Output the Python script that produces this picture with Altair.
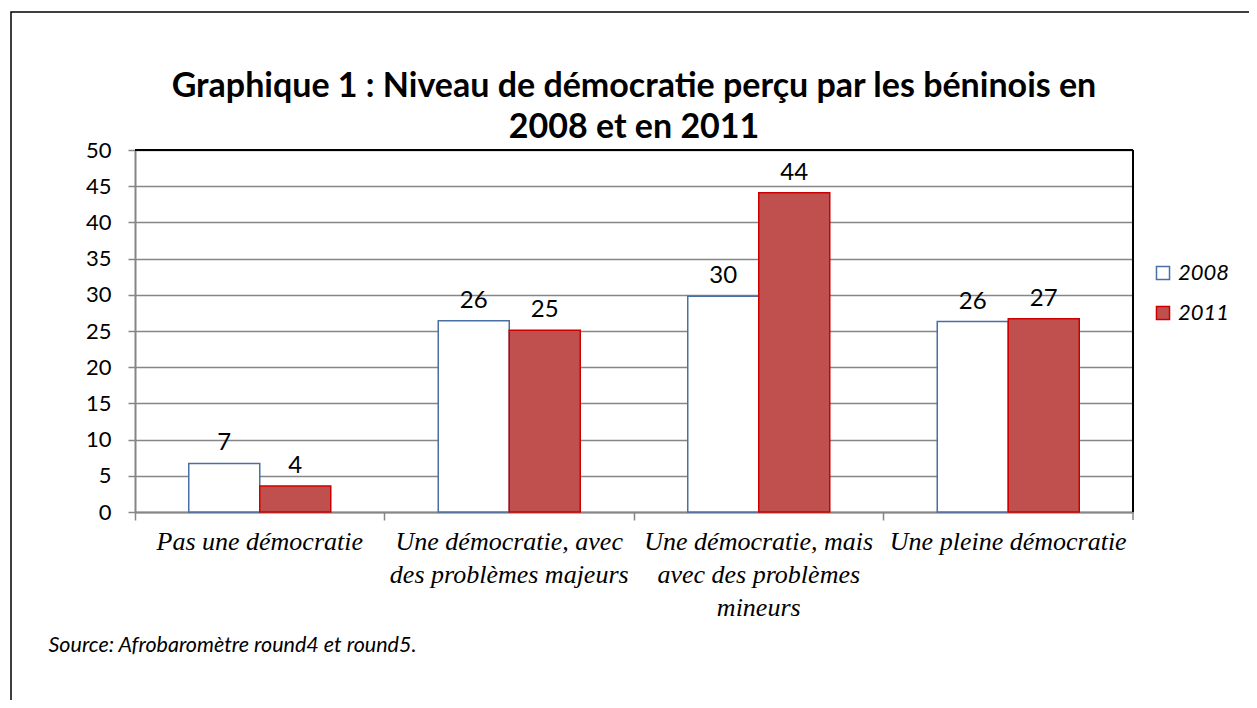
import altair as alt
import pandas as pd

categories = [
    "Pas une démocratie",
    "Une démocratie, avec des problèmes majeurs",
    "Une démocratie, mais avec des problèmes mineurs",
    "Une pleine démocratie",
]
label_lines = [
    ["Pas une démocratie"],
    ["Une démocratie, avec", "des problèmes majeurs"],
    ["Une démocratie, mais", "avec des problèmes", "mineurs"],
    ["Une pleine démocratie"],
]
years = ["2008", "2011"]
values_2008 = [6.7, 26.4, 29.8, 26.3]
values_2011 = [3.6, 25.1, 44.1, 26.7]
y_ticks = [0, 5, 10, 15, 20, 25, 30, 35, 40, 45, 50]
title_lines = ["Graphique 1 : Niveau de démocratie perçu par les béninois en", "2008 et en 2011"]
source_text = "Source: Afrobaromètre round4 et round5."

rows = []
for c, v8, v11 in zip(categories, values_2008, values_2011):
    rows.append({"cat": c, "year": "2008", "value": v8})
    rows.append({"cat": c, "year": "2011", "value": v11})
df = pd.DataFrame(rows)

# label expression: map category to multi-line array
expr = "''"
for c, lines in reversed(list(zip(categories, label_lines))):
    arr = "[" + ",".join("'" + l + "'" for l in lines) + "]"
    expr = f"datum.label == '{c}' ? {arr} : ({expr})"

PW, PH = 998, 362
GRAY = "#868686"

x_enc = alt.X(
    "cat:N",
    sort=categories,
    scale=alt.Scale(paddingInner=0, paddingOuter=0),
    axis=alt.Axis(
        title=source_text,
        titleX=-87,
        titleY=133,
        titleAlign="left",
        titleBaseline="middle",
        titleFont="Lato",
        titleFontSize=21.5,
        titleFontStyle="italic",
        titleFontWeight="normal",
        titleColor="black",
        labelExpr=expr,
        labelAngle=0,
        labelFont="Liberation Serif",
        labelFontStyle="italic",
        labelFontSize=26,
        labelLineHeight=33,
        labelColor="black",
        labelLimit=400,
        labelOverlap=False,
        labelPadding=8,
        labelBaseline="top",
        bandPosition=0,
        tickSize=8,
        tickColor=GRAY,
        tickWidth=1.5,
        domainColor=GRAY,
        domainWidth=2,
        grid=False,
    ),
)
xoff = alt.XOffset("year:N", sort=years, scale=alt.Scale(paddingInner=0, paddingOuter=0.757))
y_enc = alt.Y(
    "value:Q",
    scale=alt.Scale(domain=[0, 50], nice=False),
    axis=alt.Axis(
        values=y_ticks,
        title=None,
        grid=True,
        gridColor=GRAY,
        gridWidth=1.5,
        domainColor=GRAY,
        domainWidth=2,
        tickColor=GRAY,
        tickSize=7,
        tickWidth=1.5,
        labelFont="Lato",
        labelFontSize=22,
        labelColor="black",
        labelPadding=17,
        labelOverlap=False,
    ),
)

legend = alt.Legend(
    title=None,
    orient="none",
    legendX=1017,
    legendY=112,
    labelFont="Lato",
    labelFontSize=22,
    labelFontStyle="italic",
    labelColor="black",
    symbolType="square",
    symbolSize=170,
    symbolStrokeWidth=1.5,
    labelOffset=4,
    rowPadding=18,
)

base = alt.Chart(df)
bars = base.mark_bar(strokeWidth=1.5).encode(
    x=x_enc,
    xOffset=xoff,
    y=y_enc,
    fill=alt.Fill("year:N", scale=alt.Scale(domain=years, range=["white", "#C0504D"]), legend=legend),
    stroke=alt.Stroke("year:N", scale=alt.Scale(domain=years, range=["#4A6FA5", "#CC0000"]), legend=legend),
)
labels = base.mark_text(baseline="bottom", dy=-8, font="Lato", fontSize=24, color="black").encode(
    x=x_enc,
    xOffset=xoff,
    y=y_enc,
    text=alt.Text("value:Q", format=".0f"),
)

one = pd.DataFrame({"a": [0]})
frame = alt.Chart(one).mark_rect(fillOpacity=0, stroke="black", strokeWidth=1.5).encode(
    x=alt.value(-124), x2=alt.value(1400), y=alt.value(-138), y2=alt.value(900)
)
last_tick = alt.Chart(one).mark_rule(color=GRAY, strokeWidth=1.5).encode(
    x=alt.value(PW), y=alt.value(PH), y2=alt.value(PH + 8)
)
top_border = alt.Chart(one).mark_rule(color="black", strokeWidth=2).encode(
    x=alt.value(0), x2=alt.value(PW), y=alt.value(0)
)
right_border = alt.Chart(one).mark_rule(color="black", strokeWidth=2).encode(
    x=alt.value(PW), y=alt.value(0), y2=alt.value(PH)
)

chart = alt.layer(frame, bars, labels, last_tick, top_border, right_border).properties(
    width=PW,
    height=PH,
    autosize=alt.AutoSizeParams(type="none"),
    padding={"left": 127, "top": 142, "right": 116, "bottom": 188},
    title=alt.TitleParams(
        title_lines,
        font="Lato",
        fontSize=34,
        fontWeight="bold",
        color="black",
        anchor="middle",
        offset=12,
        dy=146,
        lineHeight=41,
    ),
).configure_view(stroke="black", strokeWidth=1.5).configure(background="white")

chart.save("out.html", embed_options={"renderer": "svg", "actions": False})
